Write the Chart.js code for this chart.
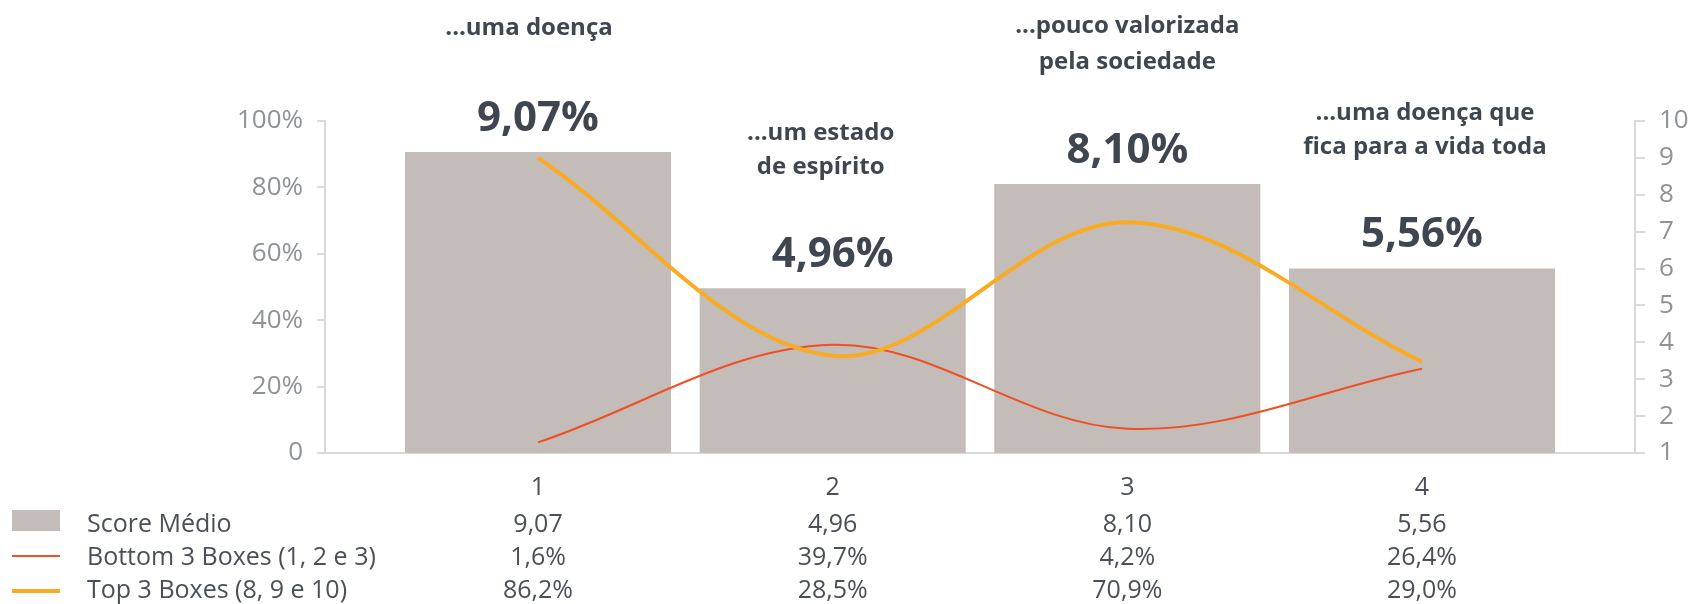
<!DOCTYPE html>
<html>
<head>
<meta charset="utf-8">
<script src="https://cdn.jsdelivr.net/npm/chart.js@4"></script>
<style>
  html, body { margin: 0; padding: 0; background: #fff; }
  #wrap { width: 1694px; height: 604px; position: relative; }
</style>
</head>
<body>
<div id="wrap"><canvas id="grafico"></canvas></div>
<script>
// categorias (eixo x) e títulos de cada uma
const categories = ['1', '2', '3', '4'];
const catTitles = [
    ['...uma doença'],
    ['...um estado', 'de espírito'],
    ['...pouco valorizada', 'pela sociedade'],
    ['...uma doença que', 'fica para a vida toda']
];

// valores da tabela
const scoreMedio = [9.07, 4.96, 8.10, 5.56];
const bottom3 = [1.6, 39.7, 4.2, 26.4];
const top3 = [86.2, 28.5, 70.9, 29.0];

// posição das curvas como estão desenhadas no gráfico (eixo em %)
// obs: não coincidem exatamente com a tabela
const bottom3Curve = [3.2, 32.6, 7.3, 25.4];
const top3Curve = [88.9, 29.3, 69.5, 27.5];

// ticks
const pctTicks = [0, 20, 40, 60, 80, 100];
const scoreTicks = [1, 2, 3, 4, 5, 6, 7, 8, 9, 10];

// onde ficam os títulos (baseline da 1a linha, altura de linha, deslocamento x)
const titleLayout = [
    { y: 35, lh: 28, dx: -9 },
    { y: 140, lh: 34, dx: -12 },
    { y: 33, lh: 36, dx: 0 },
    { y: 120, lh: 34, dx: 3 }
];

const FONT = '"Open Sans", sans-serif';
const DARK = '#3f4650';
const GREY = '#8f9297';
const TEXT = '#4b5058';
const AXIS = '#d9d9d9';
const BAR = '#c4bcb8';
const RED = '#f04e23';
const ORANGE = '#f9ab22';

function fmt(v, d) {
    return v.toFixed(d).replace('.', ',');
}

const xy = (arr) => arr.map((v, i) => ({ x: Number(categories[i]), y: v }));

/**
 * textos: valores sobre as barras, títulos e a tabela de dados
 */
const overlay = {
    id: 'overlay',
    afterDraw(chart) {
        const ctx = chart.ctx;
        const xs = chart.scales.x;
        const bars = chart.getDatasetMeta(0).data;
        const ds = chart.data.datasets;
        ctx.save();
        ctx.textAlign = 'center';
        ctx.textBaseline = 'alphabetic';

        ctx.fillStyle = DARK;
        ctx.font = 'bold 42px ' + FONT;
        bars.forEach((b, i) => {
            ctx.fillText(fmt(scoreMedio[i], 2) + '%', b.x, b.y - 21);
        });

        ctx.font = 'bold 24px ' + FONT;
        catTitles.forEach((lines, i) => {
            const L = titleLayout[i];
            const cx = xs.getPixelForValue(Number(categories[i])) + L.dx;
            lines.forEach((t, j) => ctx.fillText(t, cx, L.y + j * L.lh));
        });

        // tabela
        const rows = [
            categories,
            scoreMedio.map(v => fmt(v, 2)),
            bottom3.map(v => fmt(v, 1) + '%'),
            top3.map(v => fmt(v, 1) + '%')
        ];
        const rowY = [495, 532, 565, 598];
        ctx.font = '25px ' + FONT;
        ctx.fillStyle = TEXT;
        rows.forEach((r, k) => {
            r.forEach((t, i) => {
                ctx.fillText(t, xs.getPixelForValue(Number(categories[i])), rowY[k]);
            });
        });

        ctx.textAlign = 'left';
        ds.forEach((d, k) => {
            ctx.fillStyle = TEXT;
            ctx.fillText(d.label, 87, rowY[k + 1]);
        });
        // legendas (amostras de cor)
        ctx.fillStyle = BAR;
        ctx.fillRect(12, 510, 48, 21);
        ctx.fillStyle = RED;
        ctx.fillRect(12, 555, 48, 2);
        ctx.fillStyle = ORANGE;
        ctx.fillRect(12, 589, 48, 4);
        ctx.restore();
    }
};

const ctx = document.getElementById('grafico').getContext('2d');
const chart = new Chart(ctx, {
    data: {
        datasets: [
            {
                type: 'bar',
                label: 'Score Médio',
                data: xy(scoreMedio),
                yAxisID: 'ys',
                backgroundColor: BAR,
                borderWidth: 0,
                categoryPercentage: 1,
                barPercentage: 0.903,
                order: 3
            },
            {
                type: 'line',
                label: 'Bottom 3 Boxes (1, 2 e 3)',
                data: xy(bottom3Curve),
                yAxisID: 'y',
                borderColor: RED,
                borderWidth: 2,
                pointRadius: 0,
                tension: 0.35,
                order: 2
            },
            {
                type: 'line',
                label: 'Top 3 Boxes (8, 9 e 10)',
                data: xy(top3Curve),
                yAxisID: 'y',
                borderColor: ORANGE,
                borderWidth: 4,
                pointRadius: 0,
                tension: 0.35,
                order: 1
            }
        ]
    },
    options: {
        responsive: true,
        maintainAspectRatio: false,
        animation: false,
        layout: { padding: { top: 121, bottom: 151, left: 0, right: 0 } },
        plugins: {
            legend: { display: false },
            tooltip: { enabled: false }
        },
        scales: {
            x: {
                type: 'linear',
                min: 0.2771,
                max: 4.7229,
                offset: false,
                // só as categorias como ticks, assim a largura da barra usa o espaço entre elas
                afterBuildTicks: s => { s.ticks = categories.map(c => ({ value: Number(c) })); },
                grid: { display: false },
                ticks: { display: false },
                border: { display: true, color: AXIS, width: 2 },
                afterFit: s => { s.height = 0; }
            },
            y: {
                position: 'left',
                min: 0,
                max: 100,
                afterBuildTicks: s => { s.ticks = pctTicks.map(v => ({ value: v })); },
                ticks: {
                    color: GREY,
                    font: { family: FONT, size: 26 },
                    padding: 14,
                    callback: v => v === 0 ? '0' : v + '%'
                },
                grid: { drawOnChartArea: false, tickLength: 8, color: AXIS, lineWidth: 2 },
                border: { color: AXIS, width: 2 },
                afterFit: s => { s.width = 325; }
            },
            y1: {
                position: 'right',
                min: 1,
                max: 10,
                afterBuildTicks: s => { s.ticks = scoreTicks.map(v => ({ value: v })); },
                ticks: {
                    color: GREY,
                    font: { family: FONT, size: 26 },
                    padding: 14
                },
                grid: { drawOnChartArea: false, tickLength: 10, color: AXIS, lineWidth: 2 },
                border: { color: AXIS, width: 2 },
                afterFit: s => { s.width = 59; }
            },
            ys: {
                display: false,
                min: 0,
                max: 10
            }
        }
    },
    plugins: [overlay]
});
</script>
</body>
</html>
